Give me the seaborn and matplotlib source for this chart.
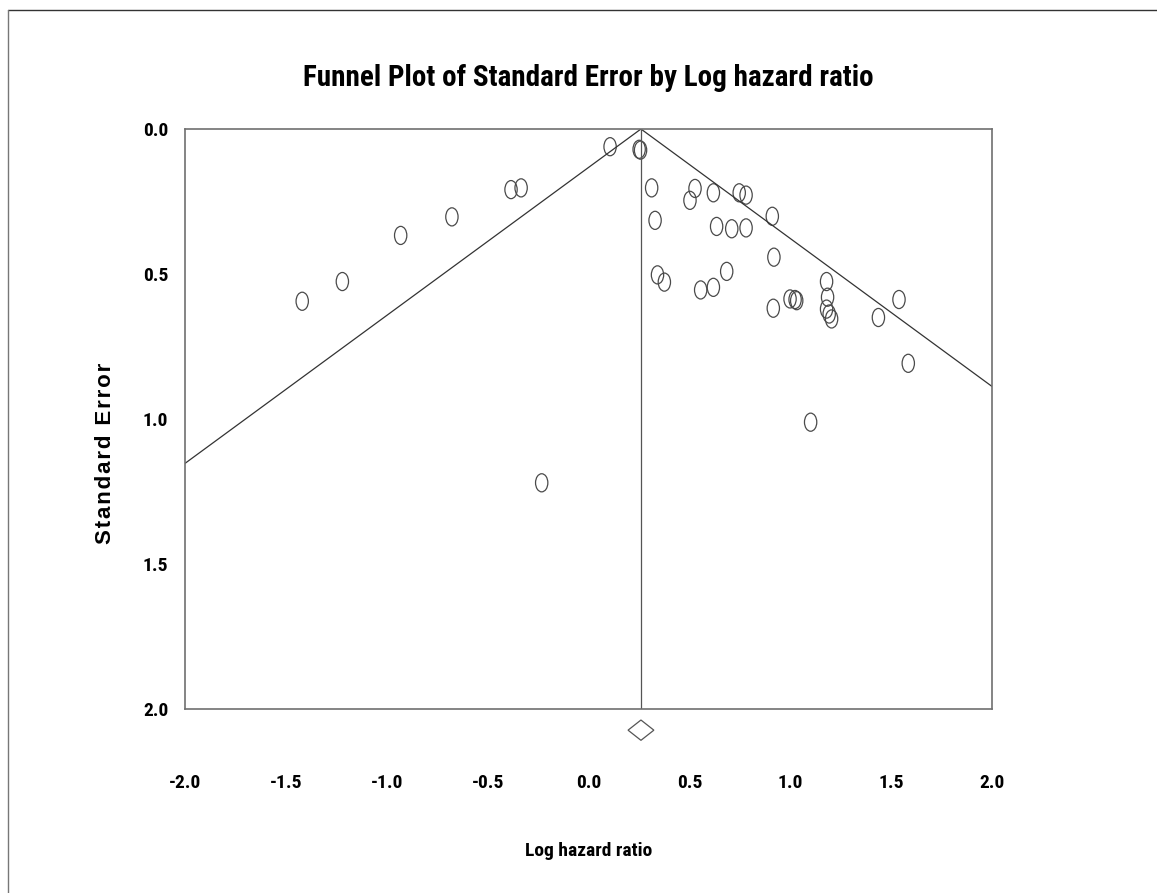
import seaborn as sns
import pandas as pd
import numpy as np
import matplotlib.pyplot as plt
import matplotlib.path as mpath
from matplotlib.transforms import Affine2D
from matplotlib.lines import Line2D

# Study estimates
log_hr = [-1.419, -1.220, -0.931, -0.677, -0.384, -0.334, -0.232, 0.107,
          0.251, 0.258, 0.313, 0.330, 0.342, 0.376, 0.503, 0.528, 0.556,
          0.619, 0.619, 0.635, 0.685, 0.710, 0.747, 0.781, 0.781, 0.911,
          0.916, 0.919, 0.999, 1.024, 1.032, 1.101, 1.180, 1.185, 1.180,
          1.193, 1.205, 1.437, 1.539, 1.585]
std_err = [0.594, 0.526, 0.367, 0.303, 0.209, 0.203, 1.220, 0.061,
           0.070, 0.073, 0.203, 0.315, 0.503, 0.528, 0.246, 0.205, 0.555,
           0.546, 0.220, 0.336, 0.491, 0.344, 0.220, 0.341, 0.228, 0.301,
           0.618, 0.442, 0.586, 0.588, 0.592, 1.011, 0.526, 0.580, 0.621,
           0.638, 0.655, 0.650, 0.588, 0.808]

# Pooled estimate and its confidence interval (diamond)
pooled = 0.26
ci_low = 0.196
ci_high = 0.324

x_ticks = [-2.0, -1.5, -1.0, -0.5, 0.0, 0.5, 1.0, 1.5, 2.0]
y_ticks = [0.0, 0.5, 1.0, 1.5, 2.0]

data = pd.DataFrame({'log_hr': log_hr, 'se': std_err})

sns.set_style('white')
narrow = ['Liberation Sans Narrow', 'Roboto Condensed', 'DejaVu Sans']
plt.rcParams['font.family'] = narrow
plt.rcParams['font.stretch'] = 'condensed'
for k in ['text.color', 'axes.labelcolor', 'xtick.color', 'ytick.color']:
    plt.rcParams[k] = 'black'

fig = plt.figure(figsize=(11.57, 8.93), dpi=100)
ax = fig.add_axes([185 / 1157, 1 - 709 / 893, 807 / 1157, 580 / 893])

# funnel: pooled +/- 1.96 * SE
se_line = np.array([0.0, 2.0])
ax.plot(pooled - 1.96 * se_line, se_line, color='#333333', lw=0.9)
ax.plot(pooled + 1.96 * se_line, se_line, color='#333333', lw=0.9)
ax.plot([pooled, pooled], [0.0, 2.0], color='#555555', lw=0.9)

# tall open ellipse marker
ellipse = mpath.Path.unit_circle().transformed(Affine2D().scale(0.68, 1.0))
sns.scatterplot(data=data, x='log_hr', y='se', ax=ax, marker=ellipse, s=170,
                facecolor='none', edgecolor='#4a4a4a', linewidth=0.9)

# diamond for the pooled estimate, below the axis
yd, hd = 2.073, 0.035
ax.fill([ci_low, pooled, ci_high, pooled], [yd, yd - hd, yd, yd + hd],
        facecolor='white', edgecolor='#555555', lw=0.9, clip_on=False)

ax.set_xlim(-2.0, 2.0)
ax.set_ylim(2.0, 0.0)
ax.set_xticks(x_ticks)
ax.set_yticks(y_ticks)
ax.set_xticklabels([f'{t:.1f}' for t in x_ticks])
ax.set_yticklabels([f'{t:.1f}' for t in y_ticks])

for s in ax.spines.values():
    s.set_color('#707070')
    s.set_linewidth(1.2)

ax.tick_params(axis='x', direction='inout', length=8, width=0.8, color='#555555',
               pad=43, labelsize=14)
ax.tick_params(axis='y', direction='out', length=3, width=0.8, color='#555555',
               pad=9, labelsize=14)
for lab in ax.get_xticklabels() + ax.get_yticklabels():
    lab.set_fontweight('bold')

ax.set_xlabel('Log hazard ratio', fontsize=14, fontweight='bold')
ax.xaxis.set_label_coords(0.5, -0.244)
ax.xaxis.label.set_va('center')
# letter-spaced y label
spaced = '\u200a'.join('Standard Error')
ax.set_ylabel(spaced, fontsize=16, fontweight='bold',
              family=['Liberation Sans', 'DejaVu Sans'], fontstretch='normal')
ax.yaxis.set_label_coords(-0.099, 0.441)
ax.yaxis.label.set_va('center')

fig.text(588 / 1157, 1 - 78 / 893, 'Funnel Plot of Standard Error by Log hazard ratio',
         ha='center', va='center', fontsize=21, fontweight='bold')

# outer frame edges (top and left only)
fig.add_artist(Line2D([8 / 1157, 1.0], [1 - 10 / 893, 1 - 10 / 893],
                      transform=fig.transFigure, color='#333333', lw=1))
fig.add_artist(Line2D([8 / 1157, 8 / 1157], [0.0, 1 - 10 / 893],
                      transform=fig.transFigure, color='#777777', lw=1))

fig.savefig('out.png', dpi=100)
